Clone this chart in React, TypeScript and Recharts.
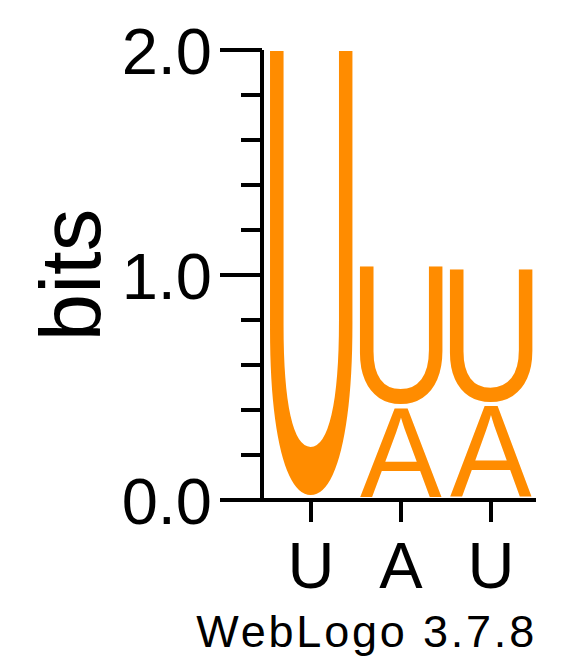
import { BarChart, Bar, XAxis, YAxis } from 'recharts'

// sequence logo: one column per position, letter heights in bits
const positions = ['U', 'A', 'U']
const aBits = [0, 0.41, 0.42]
const uBits = [2.0, 0.63, 0.61]
const yTicks = [0, 0.2, 0.4, 0.6, 0.8, 1.0, 1.2, 1.4, 1.6, 1.8, 2.0]
const yMajor = [0, 1, 2]

const data = positions.map((pos, i) => ({ pos, A: aBits[i], U: uBits[i] }))

const FONT = '"Liberation Sans", Arial, Helvetica, sans-serif'
const ORANGE = '#ff8c00'

// ink boxes of the glyphs, em units (Arial metrics)
const glyphBox: Record<string, { x0: number; x1: number; top: number; bottom: number }> = {
  U: { x0: 0.077, x1: 0.642, top: 0.688, bottom: -0.012 },
  A: { x0: -0.001, x1: 0.668, top: 0.688, bottom: 0 },
}

function Glyph(props: any) {
  const { x, y, width, height, letter } = props
  if (!height || height < 1) return null
  const b = glyphBox[letter]
  const top = y + 1
  const h = height - 4.5
  const fs = 100
  const sx = width / ((b.x1 - b.x0) * fs)
  const sy = h / ((b.top - b.bottom) * fs)
  const tx = x - b.x0 * fs * sx
  const ty = top + b.top * fs * sy
  return (
    <text
      transform={`translate(${tx},${ty}) scale(${sx},${sy})`}
      x={0}
      y={0}
      fontFamily={FONT}
      fontSize={fs}
      fill={ORANGE}
    >
      {letter}
    </text>
  )
}

function YTick(props: any) {
  const { x, y, payload } = props
  const major = yMajor.includes(payload.value)
  return (
    <g>
      <line x1={major ? x - 42 : x - 21} x2={x} y1={y} y2={y} stroke="#000" strokeWidth={4} />
      {major && (
        <text x={x - 50} y={y + 24} textAnchor="end" fontFamily={FONT} fontSize={65} fill="#000">
          {payload.value.toFixed(1)}
        </text>
      )}
    </g>
  )
}

function XTick(props: any) {
  const { x, y, payload } = props
  return (
    <g>
      <line x1={x} x2={x} y1={y} y2={y + 22} stroke="#000" strokeWidth={4} />
      <text x={x} y={y + 88} textAnchor="middle" fontFamily={FONT} fontSize={65} fill="#000">
        {payload.value}
      </text>
    </g>
  )
}

export default function App() {
  return (
    <div style={{ position: 'absolute', left: 0, top: 0, background: '#fff' }}>
      <BarChart
        width={583}
        height={667}
        data={data}
        margin={{ top: 50, right: 47, bottom: 0, left: 0 }}
        barSize={82}
      >
        <XAxis
          dataKey="pos"
          height={167}
          padding={{ left: 4, right: 0 }}
          axisLine={{ stroke: '#000', strokeWidth: 4 }}
          tickLine={false}
          tickSize={0}
          tickMargin={0}
          tick={(p: any) => <XTick {...p} />}
          label={{
            content: (p: any) => {
              const vb = p.viewBox
              return (
                <text
                  x={vb.x + vb.width + 1}
                  y={vb.y + 147}
                  textAnchor="end"
                  fontFamily={FONT}
                  fontSize={45}
                  letterSpacing={2.8}
                  fill="#000"
                >
                  WebLogo 3.7.8
                </text>
              )
            },
          }}
        />
        <YAxis
          width={262}
          domain={[0, 2]}
          ticks={yTicks}
          interval={0}
          axisLine={{ stroke: '#000', strokeWidth: 4 }}
          tickLine={false}
          tickSize={0}
          tickMargin={0}
          tick={(p: any) => <YTick {...p} />}
          label={{
            content: (p: any) => {
              const vb = p.viewBox
              return (
                <text
                  transform={`translate(100,${vb.y + vb.height / 2}) rotate(-90)`}
                  textAnchor="middle"
                  fontFamily={FONT}
                  fontSize={85}
                  fill="#000"
                >
                  bits
                </text>
              )
            },
          }}
        />
        <Bar dataKey="A" stackId="s" isAnimationActive={false} shape={(p: any) => <Glyph {...p} letter="A" />} />
        <Bar dataKey="U" stackId="s" isAnimationActive={false} shape={(p: any) => <Glyph {...p} letter="U" />} />
      </BarChart>
    </div>
  )
}
